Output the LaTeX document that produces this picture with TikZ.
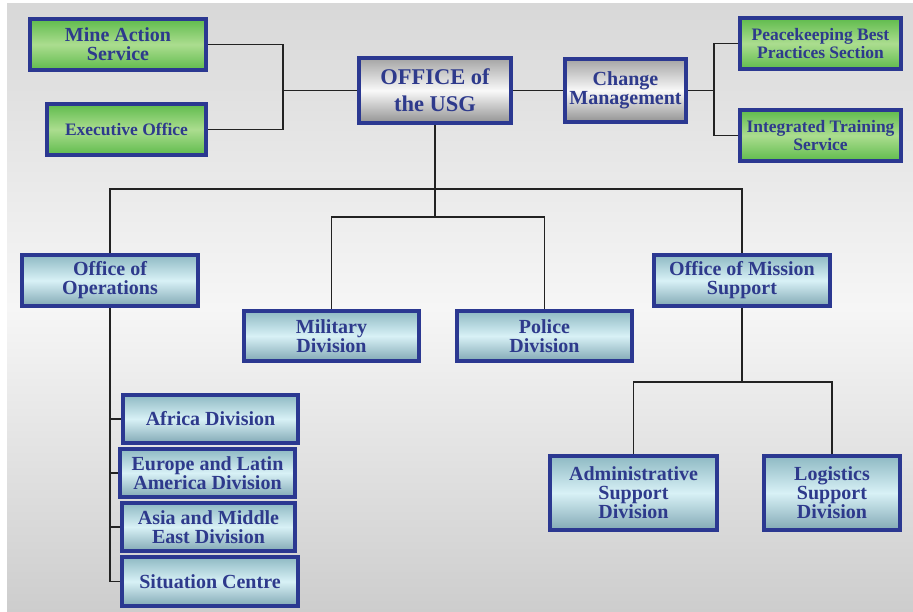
\documentclass[tikz,border=0pt]{standalone}
\usepackage{fontspec}
\setmainfont{Liberation Serif}[BoldFont={Liberation Serif Bold}]
\newfontfamily\boxfont{Liberation Serif Bold}
\begin{document}
\begin{tikzpicture}[x=1pt,y=-1pt]
\definecolor{bordblue}{HTML}{2B3891}
\definecolor{txtblue}{HTML}{2E3A8C}
\definecolor{gTop}{HTML}{5FBB4C}
\definecolor{gMid}{HTML}{ABDD8F}
\definecolor{bTop}{HTML}{8EB9C3}
\definecolor{bMid}{HTML}{D8F1F6}
\definecolor{bBot}{HTML}{82A9B5}
\definecolor{sTop}{HTML}{A4A4A4}
\definecolor{sMid}{HTML}{F9F9F9}
\definecolor{sBot}{HTML}{929292}
\definecolor{bgTop}{HTML}{D8D8D8}
\definecolor{bgMid}{HTML}{F6F6F6}
\definecolor{bgBot}{HTML}{CDCDCD}
\definecolor{linec}{HTML}{222222}
\tikzset{
  box/.style={draw=bordblue, line width=4pt, rectangle, align=center, text=txtblue,
    inner sep=1pt, font=\boxfont\fontsize{20}{19}\selectfont},
  greenbox/.style={box, top color=gTop, bottom color=gTop, middle color=gMid,
    font=\boxfont\fontsize{17.5}{17.5}\selectfont},
  bluebox/.style={box, top color=bTop, bottom color=bBot, middle color=bMid},
  silverbox/.style={box, top color=sTop, bottom color=sBot, middle color=sMid},
  conn/.style={draw=linec, line width=1.8pt}
}
% background
\fill[white] (0,0) rectangle (913,612);
\shade[top color=bgTop, bottom color=bgBot, middle color=bgMid] (7,4) rectangle (913,612);
\useasboundingbox (0,0) rectangle (913,612);

% top row
\node[greenbox, minimum width=176pt, minimum height=51pt, font=\boxfont\fontsize{20}{19}\selectfont] (mine) at (118,44.5) {Mine Action\\Service};
\node[greenbox, minimum width=159pt, minimum height=51pt] (exec) at (126.5,129.5) {Executive Office};
\node[silverbox, minimum width=152pt, minimum height=65pt, font=\boxfont\fontsize{22.5}{27}\selectfont] (usg) at (435,90.5) {OFFICE of\\the USG};
\node[silverbox, minimum width=121pt, minimum height=63pt] (change) at (625.5,90.5) {Change\\Management};
\node[greenbox, minimum width=161pt, minimum height=51pt] (peace) at (820.5,43.5) {Peacekeeping Best\\Practices Section};
\node[greenbox, minimum width=161pt, minimum height=51pt] (its) at (820.5,135.5) {Integrated Training\\Service};

% second level
\node[bluebox, minimum width=176pt, minimum height=51pt] (ops) at (110,280.5) {Office of\\Operations};
\node[bluebox, minimum width=175pt, minimum height=50pt] (mil) at (331.5,336) {Military\\Division};
\node[bluebox, minimum width=175pt, minimum height=50pt] (pol) at (544.5,336) {Police\\Division};
\node[bluebox, minimum width=176pt, minimum height=51pt] (oms) at (742,280.5) {Office of Mission\\Support};

% mission support children
\node[bluebox, minimum width=167pt, minimum height=74pt] (admin) at (633.5,493) {Administrative\\Support\\Division};
\node[bluebox, minimum width=136pt, minimum height=74pt] (log) at (832,493) {Logistics\\Support\\Division};

% operations children
\node[bluebox, minimum width=175pt, minimum height=48pt] (africa) at (210.5,419) {Africa Division};
\node[bluebox, minimum width=175pt, minimum height=48pt] (europe) at (207.5,473) {Europe and Latin\\America Division};
\node[bluebox, minimum width=173pt, minimum height=48pt] (asia) at (208.5,527) {Asia and Middle\\East Division};
\node[bluebox, minimum width=176pt, minimum height=49pt] (sit) at (210,581.5) {Situation Centre};

% junction coordinates
\coordinate (jl) at (283,90.5);
\coordinate (jr) at (714,90.5);
\coordinate (b1) at (435,189);
\coordinate (b2) at (435,217);
\coordinate (b3) at (742,382);

% connectors top
\draw[conn] (mine.east) -| (jl) |- (exec.east);
\draw[conn] (jl) -- (usg.west);
\draw[conn] (usg.east) -- (change.west);
\draw[conn] (change.east) -- (jr);
\draw[conn] (peace.west) -| (jr) |- (its.west);

% connectors middle
\draw[conn] (usg.south) -- (b2);
\draw[conn] (ops.north) |- (b1) -| (oms.north);
\draw[conn] (mil.north) |- (b2) -| (pol.north);

% operations list
\draw[conn] (ops.south) |- (sit.west);
\draw[conn] (ops.south |- africa.west) -- (africa.west);
\draw[conn] (ops.south |- europe.west) -- (europe.west);
\draw[conn] (ops.south |- asia.west) -- (asia.west);

% mission support
\draw[conn] (oms.south) -- (b3);
\draw[conn] (admin.north) |- (b3) -| (log.north);
\end{tikzpicture}
\end{document}
